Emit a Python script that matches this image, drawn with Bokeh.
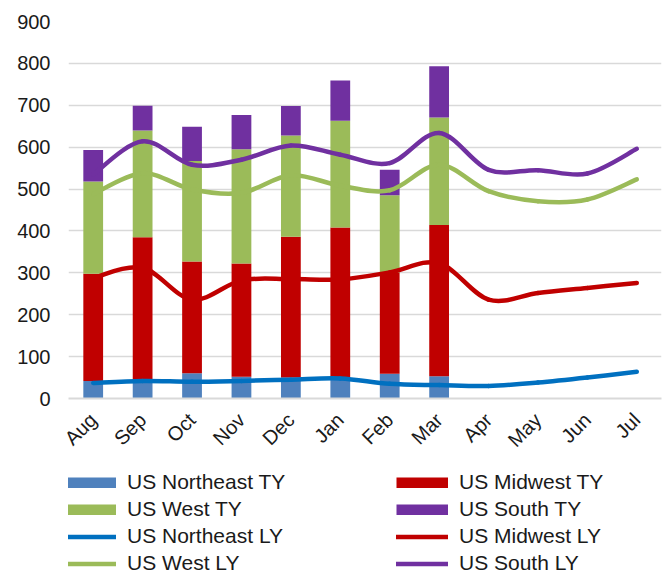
import math
from bokeh.plotting import figure
from bokeh.layouts import column
from bokeh.models import Range1d, FixedTicker, Legend, LegendItem, ColumnDataSource
from bokeh.embed import file_html
from bokeh.resources import INLINE

months = ["Aug", "Sep", "Oct", "Nov", "Dec", "Jan", "Feb", "Mar", "Apr", "May", "Jun", "Jul"]

# This year (stacked bars), Aug..Mar
ne_ty = [42, 45, 60, 52, 50, 50, 59, 53]
mw_ty = [256, 340, 267, 270, 336, 358, 241, 361]
west_ty = [220, 255, 240, 273, 242, 255, 185, 257]
south_ty = [75, 59, 82, 82, 70, 96, 61, 122]

# Last year (smoothed lines), Aug..Jul
ne_ly = [37, 42, 40, 42, 45, 48, 35, 32, 30, 38, 50, 64]
mw_ly = [288, 312, 236, 282, 285, 284, 301, 323, 236, 252, 264, 276]
west_ly = [488, 538, 499, 491, 533, 508, 497, 558, 495, 471, 475, 523]
south_ly = [535, 614, 558, 570, 604, 582, 562, 634, 546, 545, 537, 596]

labels = ["US Northeast TY", "US Midwest TY", "US West TY", "US South TY",
          "US Northeast LY", "US Midwest LY", "US West LY", "US South LY"]

C_NE_BAR = "#4F81BD"
C_MW = "#C00000"
C_WEST = "#9BBB59"
C_SOUTH = "#7030A0"
C_NE_LINE = "#0070C0"

FONT = "Liberation Sans"
TEXT_C = "#1a1a1a"
LW = 4.5

W = 667
p = figure(width=W, height=465, output_backend="svg", toolbar_location=None,
           x_range=Range1d(-0.5, 11.5), y_range=Range1d(0, 900),
           min_border_left=68, min_border_right=6, min_border_top=21,
           min_border_bottom=67)
p.outline_line_color = None
p.background_fill_color = "white"
p.border_fill_color = "white"

n_bar = len(ne_ty)
bar_src = ColumnDataSource(dict(x=list(range(n_bar)), ne=ne_ty, mw=mw_ty, west=west_ty, south=south_ty))
bars = p.vbar_stack(["ne", "mw", "west", "south"], x="x", width=0.4, source=bar_src,
                    color=[C_NE_BAR, C_MW, C_WEST, C_SOUTH], line_color=None)


def smooth(vals, color):
    # Excel-style smoothed line: cubic Bezier segments through the data points
    n = len(vals)
    xs = list(range(n))
    x0, y0, x1, y1, cx0, cy0, cx1, cy1 = [], [], [], [], [], [], [], []
    for i in range(n - 1):
        im1 = max(i - 1, 0)
        ip2 = min(i + 2, n - 1)
        x0.append(xs[i]); y0.append(vals[i])
        x1.append(xs[i + 1]); y1.append(vals[i + 1])
        cx0.append(xs[i] + (xs[i + 1] - xs[im1]) / 6.0)
        cy0.append(vals[i] + (vals[i + 1] - vals[im1]) / 6.0)
        cx1.append(xs[i + 1] - (xs[ip2] - xs[i]) / 6.0)
        cy1.append(vals[i + 1] - (vals[ip2] - vals[i]) / 6.0)
    return p.bezier(x0=x0, y0=y0, x1=x1, y1=y1, cx0=cx0, cy0=cy0, cx1=cx1, cy1=cy1,
                    line_color=color, line_width=LW, line_cap="round")


smooth(ne_ly, C_NE_LINE)
smooth(mw_ly, C_MW)
smooth(west_ly, C_WEST)
smooth(south_ly, C_SOUTH)

# axes
p.xaxis.ticker = FixedTicker(ticks=list(range(12)))
p.xaxis.major_label_overrides = {i: m for i, m in enumerate(months)}
p.xaxis.major_label_orientation = math.pi / 4
p.xaxis.axis_line_color = "#D9D9D9"
p.xaxis.axis_line_width = 2
p.xaxis.major_tick_line_color = None
p.xaxis.minor_tick_line_color = None
p.xaxis.major_tick_out = 0
p.xaxis.major_tick_in = 0
p.xaxis.major_label_text_font = FONT
p.xaxis.major_label_text_font_size = "20px"
p.xaxis.major_label_text_color = TEXT_C
p.xaxis.major_label_standoff = 18

p.yaxis.ticker = FixedTicker(ticks=list(range(0, 901, 100)))
p.yaxis.axis_line_color = None
p.yaxis.major_tick_line_color = None
p.yaxis.minor_tick_line_color = None
p.yaxis.major_tick_out = 0
p.yaxis.major_tick_in = 0
p.yaxis.major_label_text_font = FONT
p.yaxis.major_label_text_font_size = "20px"
p.yaxis.major_label_text_color = TEXT_C
p.yaxis.major_label_standoff = 18

p.xgrid.grid_line_color = None
p.ygrid.grid_line_color = "#D9D9D9"
p.ygrid.grid_line_width = 1.5

# ---- legend panel (separate figure below the chart) ----
lg = figure(width=W, height=111, output_backend="svg", toolbar_location=None,
            x_axis_type=None, y_axis_type=None, min_border=0,
            x_range=Range1d(100, 101), y_range=Range1d(5000, 5001))
lg.outline_line_color = None
lg.background_fill_color = "white"
lg.border_fill_color = "white"

xs_all = list(range(12))
xs_bar = list(range(n_bar))
# legend sample renderers (outside the visible range; only their legend swatches show)
sw = [
    lg.line(x=xs_bar, y=ne_ty, line_color=C_NE_BAR, line_width=11, line_cap="butt"),
    lg.line(x=xs_bar, y=mw_ty, line_color=C_MW, line_width=11, line_cap="butt"),
    lg.line(x=xs_bar, y=west_ty, line_color=C_WEST, line_width=11, line_cap="butt"),
    lg.line(x=xs_bar, y=south_ty, line_color=C_SOUTH, line_width=11, line_cap="butt"),
    lg.line(x=xs_all, y=ne_ly, line_color=C_NE_LINE, line_width=LW, line_cap="round"),
    lg.line(x=xs_all, y=mw_ly, line_color=C_MW, line_width=LW, line_cap="round"),
    lg.line(x=xs_all, y=west_ly, line_color=C_WEST, line_width=LW, line_cap="round"),
    lg.line(x=xs_all, y=south_ly, line_color=C_SOUTH, line_width=LW, line_cap="round"),
]
items = [LegendItem(label=lab, renderers=[r]) for lab, r in zip(labels, sw)]
legend = Legend(items=items, orientation="horizontal", ncols=2, location=(-4, 1),
                label_text_font=FONT, label_text_font_size="21px", label_text_color=TEXT_C,
                glyph_width=52, glyph_height=11, label_height=24, label_standoff=11,
                label_width=266, spacing=3, padding=0, margin=0,
                border_line_color=None, background_fill_alpha=0)
lg.add_layout(legend, "center")

layout = column(p, lg, spacing=0)
open("out.html", "w").write(file_html(layout, INLINE))
